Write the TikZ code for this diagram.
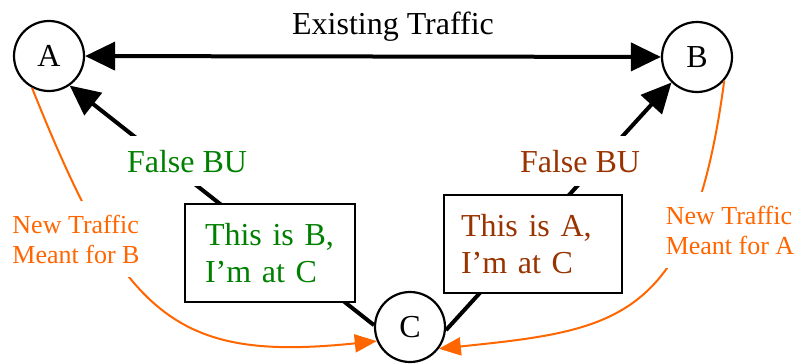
\documentclass[tikz,border=0pt]{standalone}
\usepackage{fontspec}
\setmainfont{Liberation Serif}
\usepackage{xcolor}
\usepackage{tikz}
\usetikzlibrary{arrows.meta}

\definecolor{bugreen}{RGB}{0,128,0}
\definecolor{bubrown}{RGB}{153,51,0}
\definecolor{traforange}{RGB}{255,102,0}

\begin{document}
\begin{tikzpicture}[
    x=0.5pt, y=-0.5pt,
    host/.style={circle, draw=black, line width=1.1pt, minimum size=35pt, inner sep=0pt, font=\fontsize{16}{19}\selectfont},
    msgbox/.style={rectangle, draw=black, fill=white, line width=1.2pt, minimum height=49pt, align=left, font=\fontsize{16}{18.5}\selectfont},
    trafarrow/.style={{Triangle[length=15pt, width=14pt]}-{Triangle[length=15pt, width=14pt]}, line width=2pt},
    buarrow/.style={-{Triangle[length=15pt, width=14pt]}, line width=2pt},
    newarrow/.style={-{Triangle[length=11pt, width=9pt]}, line width=1pt, color=traforange},
    bulabel/.style={fill=white, inner sep=7pt, font=\fontsize{16}{19}\selectfont},
    newlabel/.style={fill=white, inner sep=7pt, align=left, text=traforange, font=\fontsize{13}{15}\selectfont}
]
\useasboundingbox (0,0) rectangle (798,364);

% Hosts
\node[host] (hosta) at (49,56) {A};
\node[host] (hostb) at (697,57) {B};
\node[host] (hostc) at (410,327) {C};

% Existing traffic
\draw[trafarrow] (hosta) -- (hostb);
\node[anchor=base, font=\fontsize{16}{19}\selectfont] (existing) at (393,34) {Existing Traffic};

% False binding updates
\draw[buarrow] (hostc.177) -- (hosta.-55);
\draw[buarrow] (hostc.-5) -- (hostb.225);

% New traffic
\draw[newarrow] (hosta.-118) .. controls (124,318) and (175,362) .. (hostc.203);
\draw[newarrow] (hostb.-41) .. controls (692,322) and (618,330) .. (hostc.-37);

% Labels
\node[bulabel, text=bugreen, anchor=base] (falsebua) at (187,172) {False BU};
\node[bulabel, text=bubrown, anchor=base] (falsebub) at (580,172) {False BU};
\node[msgbox, text=bugreen, text width=65pt, inner xsep=10pt] (msgb) at (270,253) {This is B,\\I'm at C};
\node[msgbox, text=bubrown, text width=72pt, inner xsep=8.5pt] (msga) at (533,244) {This is A,\\I'm at C};
\node[newlabel] (newb) at (76,239) {New Traffic\\Meant for B};
\node[newlabel] (newa) at (730,230) {New Traffic\\Meant for A};

\end{tikzpicture}
\end{document}
